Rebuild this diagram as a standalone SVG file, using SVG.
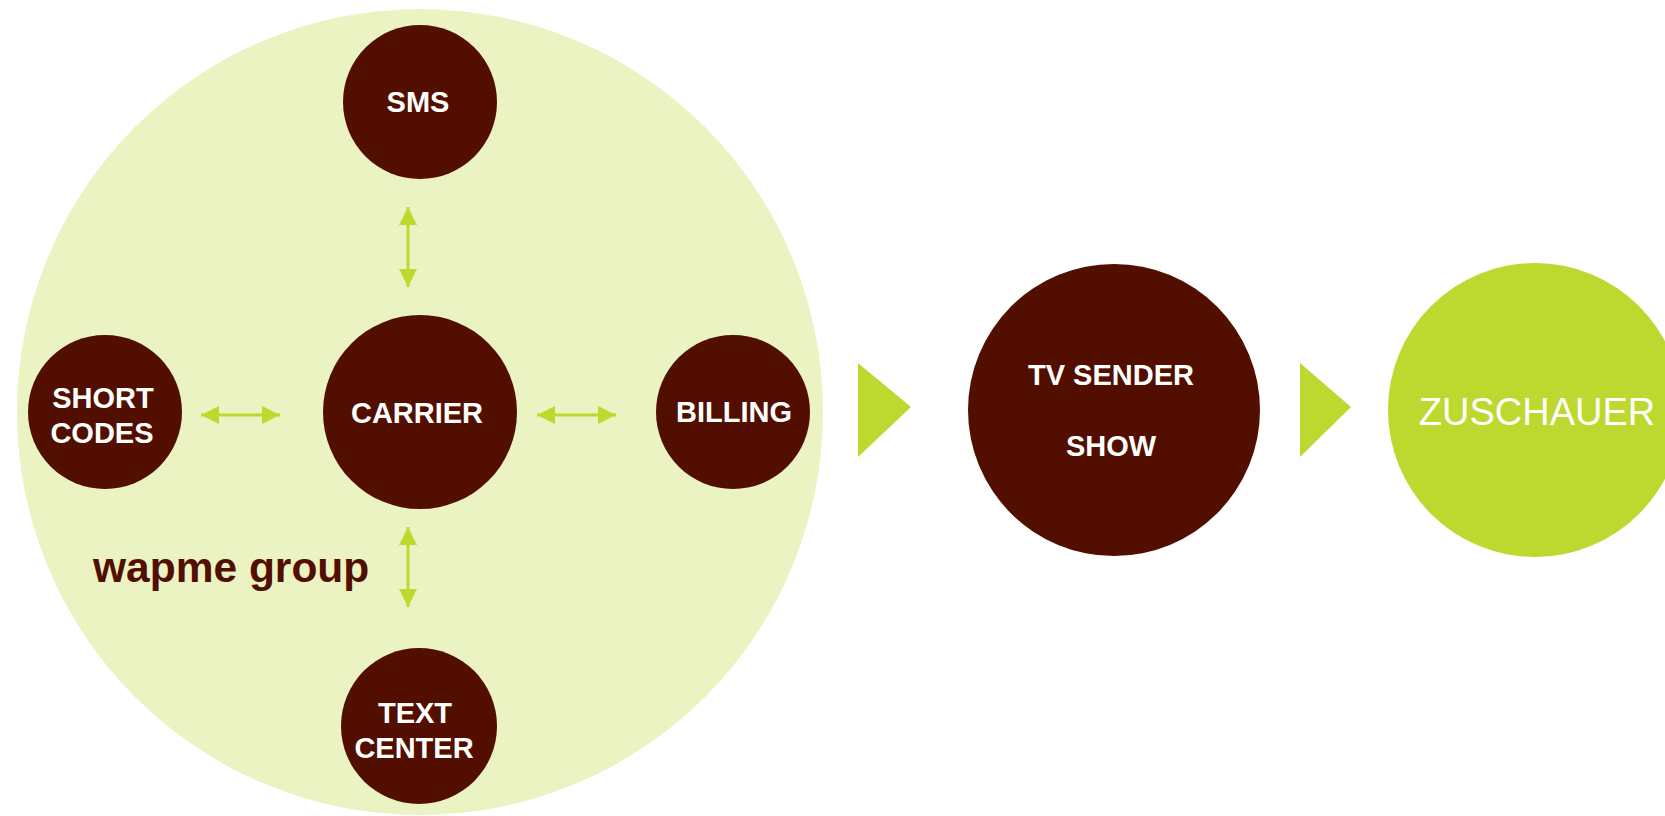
<svg xmlns="http://www.w3.org/2000/svg" width="1665" height="816" viewBox="0 0 1665 816">
  <style>
    .bg { fill: #ffffff; }
    .group { fill: #EBF3C3; }
    .node { fill: #520F00; }
    .lime { fill: #BDD82F; }
    .lbl { font-family: "Liberation Sans", Arial, sans-serif; font-weight: bold; font-size: 29px; fill: #ffffff; text-anchor: middle; }
    .big { font-family: "Liberation Sans", Arial, sans-serif; font-size: 38px; fill: #ffffff; text-anchor: middle; }
    .title { font-family: "Liberation Sans", Arial, sans-serif; font-weight: bold; font-size: 42.5px; fill: #520F00; }
    .conn { stroke: #BDD82F; stroke-width: 3; fill: none; marker-start: url(#head); marker-end: url(#head); }
  </style>
  <defs>
    <marker id="head" markerUnits="userSpaceOnUse" markerWidth="18" markerHeight="18" viewBox="0 0 16 16" refX="16" refY="8" orient="auto-start-reverse">
      <path d="M0,0 L16,8 L0,16 Z" fill="#BDD82F"/>
    </marker>
  </defs>
  <rect class="bg" x="0" y="0" width="1665" height="816"/>

  <g id="wapme-group">
    <circle class="group" cx="420" cy="412" r="403"/>
    <text class="title" x="93" y="582">wapme group</text>
  </g>

  <g id="connectors">
    <line class="conn" x1="408" y1="207" x2="408" y2="287"/>
    <line class="conn" x1="408" y1="527" x2="408" y2="607"/>
    <line class="conn" x1="201" y1="415" x2="280" y2="415"/>
    <line class="conn" x1="537" y1="415" x2="616" y2="415"/>
    <polygon id="flow1" class="lime" points="858,363 911,407 858,457"/>
    <polygon id="flow2" class="lime" points="1300,363 1351,407 1300,457"/>
  </g>

  <g id="sms">
    <circle class="node" cx="420" cy="102" r="77"/>
    <text class="lbl" x="418" y="112">SMS</text>
  </g>

  <g id="short-codes">
    <circle class="node" cx="105" cy="412" r="77"/>
    <text class="lbl" x="103" y="408">SHORT</text>
    <text class="lbl" x="102" y="443">CODES</text>
  </g>

  <g id="carrier">
    <circle class="node" cx="420" cy="412" r="97"/>
    <text class="lbl" x="417" y="423">CARRIER</text>
  </g>

  <g id="billing">
    <circle class="node" cx="733" cy="412" r="77"/>
    <text class="lbl" x="734" y="422">BILLING</text>
  </g>

  <g id="text-center">
    <circle class="node" cx="419" cy="726" r="78"/>
    <text class="lbl" x="415" y="723">TEXT</text>
    <text class="lbl" x="414" y="758">CENTER</text>
  </g>

  <g id="tv-sender">
    <circle class="node" cx="1114" cy="410" r="146"/>
    <text class="lbl" x="1111" y="385">TV SENDER</text>
    <text class="lbl" x="1111" y="456">SHOW</text>
  </g>

  <g id="zuschauer">
    <circle class="lime" cx="1535" cy="410" r="147"/>
    <text class="big" x="1537" y="425">ZUSCHAUER</text>
  </g>
</svg>
